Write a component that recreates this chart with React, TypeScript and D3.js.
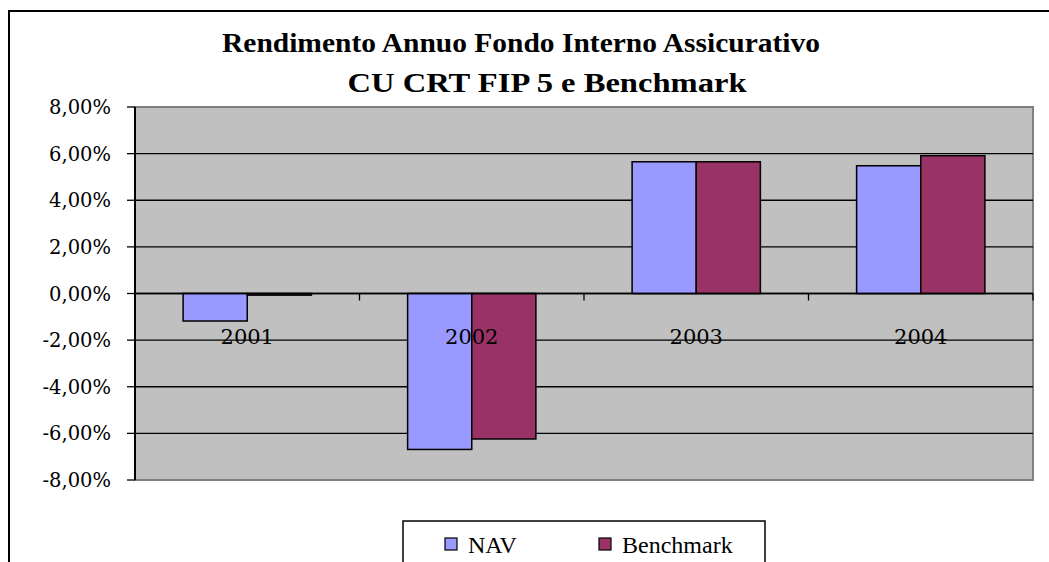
import React from "react";
import * as d3 from "d3";

const categories = ["2001", "2002", "2003", "2004"];
const seriesNames = ["NAV", "Benchmark"];
const navValues = [-1.18, -6.69, 5.65, 5.48];
const benchmarkValues = [-0.07, -6.24, 5.65, 5.91];
const yTicks = [-8, -6, -4, -2, 0, 2, 4, 6, 8];
const colors = ["#9999FF", "#993366"];
const titleLines = ["Rendimento Annuo Fondo Interno Assicurativo", "CU CRT FIP 5 e Benchmark"];

const W = 1049;
const H = 562;
const plot = { left: 135, top: 107, right: 1033, bottom: 480 };
const titleLayout = [
  { cx: 521, y: 52, len: 598 },
  { cx: 547, y: 92, len: 399 },
];

export default function App() {
  const x = d3.scaleBand<string>().domain(categories).range([plot.left, plot.right]).paddingInner(1.5 / 3.5).paddingOuter(0.75 / 3.5);
  const xs = d3.scaleBand<string>().domain(seriesNames).range([0, x.bandwidth()]).padding(0);
  const y = d3.scaleLinear().domain([-8, 8]).range([plot.bottom, plot.top]);
  const fmt = (v: number) => v.toFixed(2).replace(".", ",") + "%";
  const values = [navValues, benchmarkValues];
  const step = x.step();
  const catTicks = d3.range(categories.length + 1).map((i) => plot.left + i * step);
  const serif = { fontFamily: "Liberation Serif, Times New Roman, Times, serif" };
  const tickFont = { fontFamily: "DejaVu Serif, Liberation Serif, serif" };

  return (
    <svg width={W} height={H} style={{ position: "absolute", left: 0, top: 0, background: "#fff" }}>
      <rect x={9} y={11} width={W} height={H} fill="#fff" stroke="#000" strokeWidth={2} />
      {titleLines.map((t, i) => (
        <text
          key={i}
          x={titleLayout[i].cx}
          y={titleLayout[i].y}
          textAnchor="middle"
          textLength={titleLayout[i].len}
          lengthAdjust="spacingAndGlyphs"
          style={{ ...serif, fontWeight: "bold", fontSize: 28 }}
          fill="#000"
        >
          {t}
        </text>
      ))}
      <rect x={plot.left} y={plot.top} width={plot.right - plot.left} height={plot.bottom - plot.top} fill="#C0C0C0" stroke="#808080" strokeWidth={2} />
      {yTicks.map((t) => (
        <g key={t}>
          {t !== 8 && t !== -8 && <line x1={plot.left} x2={plot.right} y1={y(t)} y2={y(t)} stroke="#000" strokeWidth={1.3} />}
          <line x1={plot.left - 8} x2={plot.left} y1={y(t)} y2={y(t)} stroke="#000" strokeWidth={1.3} />
          <text x={111} y={y(t)} dy="0.36em" textAnchor="end" style={{ ...tickFont, fontSize: 19.5 }} fill="#000">
            {fmt(t)}
          </text>
        </g>
      ))}
      {categories.map((c, ci) =>
        seriesNames.map((s, si) => {
          const v = values[si][ci];
          const x0 = (x(c) as number) + (xs(s) as number);
          return (
            <rect key={c + s} x={x0} y={Math.min(y(v), y(0))} width={xs.bandwidth()} height={Math.abs(y(v) - y(0))} fill={colors[si]} stroke="#000" strokeWidth={1.5} />
          );
        })
      )}
      <line x1={plot.left} x2={plot.right} y1={y(0)} y2={y(0)} stroke="#000" strokeWidth={1.5} />
      {catTicks.map((tx, i) => (
        <line key={i} x1={tx} x2={tx} y1={y(0)} y2={y(0) + 7} stroke="#000" strokeWidth={1.3} />
      ))}
      <line x1={plot.left} x2={plot.left} y1={plot.top} y2={plot.bottom} stroke="#000" strokeWidth={2} />
      {categories.map((c) => (
        <text key={c} x={(x(c) as number) + x.bandwidth() / 2} y={344} textAnchor="middle" style={{ ...tickFont, fontSize: 21 }} fill="#000">
          {c}
        </text>
      ))}
      <rect x={403} y={521} width={362} height={60} fill="#fff" stroke="#000" strokeWidth={1.5} />
      {seriesNames.map((s, i) => {
        const lx = i === 0 ? 445 : 599;
        return (
          <g key={s}>
            <rect x={lx} y={538} width={12} height={12} fill={colors[i]} stroke="#000" strokeWidth={1.2} />
            <text x={lx + 23} y={553} style={{ ...serif, fontSize: 24 }} fill="#000">
              {s}
            </text>
          </g>
        );
      })}
    </svg>
  );
}
